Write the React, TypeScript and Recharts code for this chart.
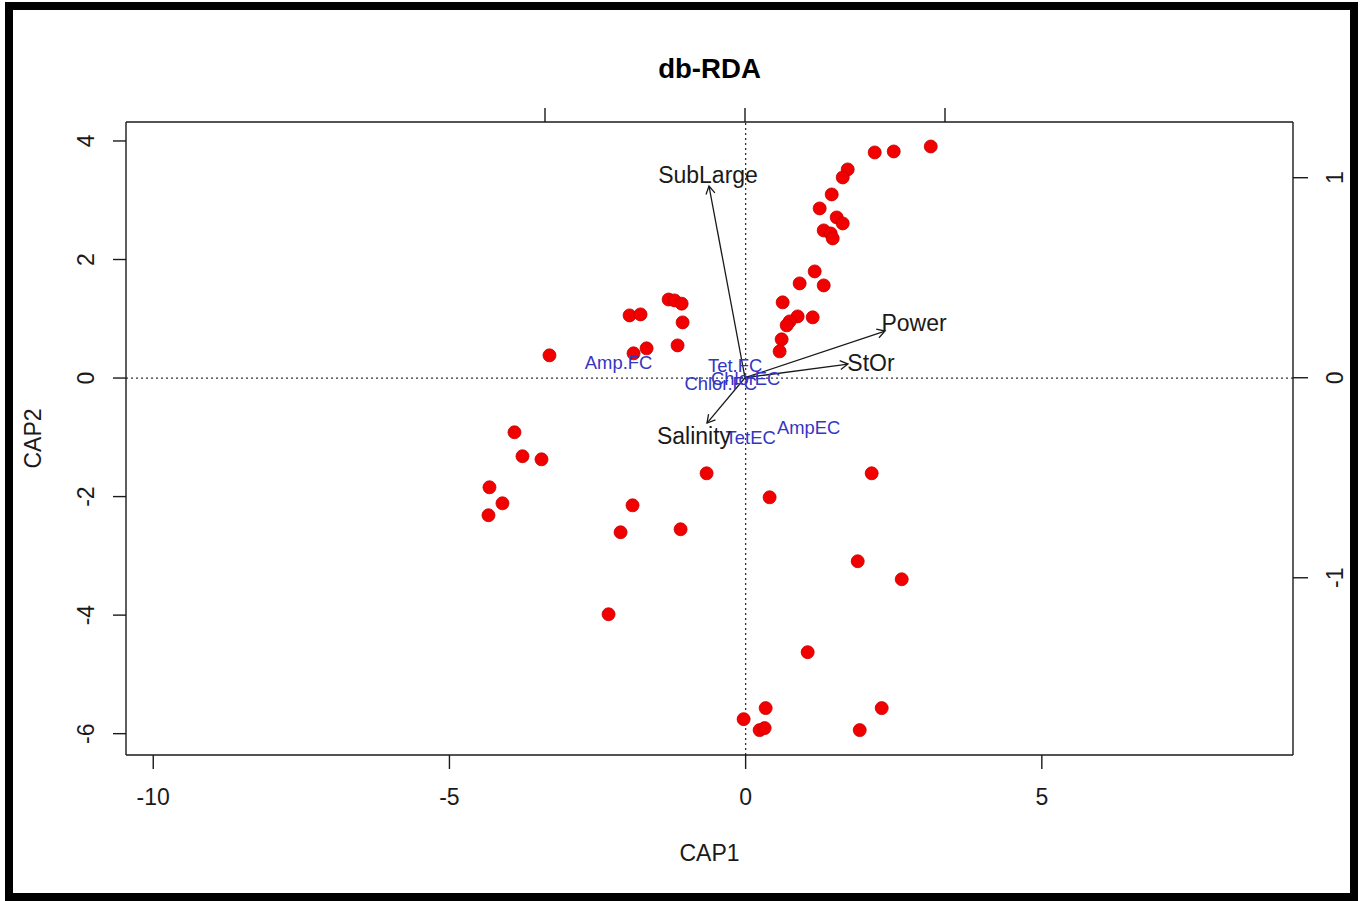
import {
  ScatterChart,
  Scatter,
  XAxis,
  YAxis,
  ReferenceLine,
  Label,
} from 'recharts';

// site scores (CAP1, CAP2)
const siteX = [
  3.125, 2.5, 2.179, 1.723, 1.639, 1.453, 1.25, 1.537, 1.639, 1.318, 1.436, 1.47,
  1.166, 0.912, 1.318, 0.625, 1.132, 0.878, 0.743, 0.693, 0.608, 0.574,
  -1.3, -1.2, -1.08, -1.064, -1.959, -1.774, -1.149, -1.672, -1.892, -3.311,
  -3.902, -3.767, -3.446, -4.324, -4.105, -4.341,
  -0.659, -1.909, -2.111, -1.098, 0.405, 2.128, 1.892, 2.635, -2.314, 1.047,
  -0.034, 0.338, 0.236, 0.321, 2.297, 1.926,
];
const siteY = [
  3.907, 3.823, 3.806, 3.52, 3.385, 3.098, 2.862, 2.71, 2.609, 2.491, 2.44, 2.356,
  1.799, 1.597, 1.563, 1.277, 1.024, 1.04, 0.956, 0.889, 0.653, 0.45,
  1.325, 1.31, 1.255, 0.939, 1.057, 1.074, 0.551, 0.501, 0.417, 0.383,
  -0.915, -1.319, -1.371, -1.843, -2.113, -2.315,
  -1.607, -2.147, -2.602, -2.551, -2.012, -1.607, -3.091, -3.395, -3.985, -4.625,
  -5.755, -5.569, -5.94, -5.906, -5.569, -5.94,
];

// species scores, drawn as blue text
const speciesNames = ['Amp.FC', 'Tet.FC', 'Chlor.FC', 'ChlorEC', 'TetEC', 'AmpEC'];
const speciesX = [-2.145, -0.177, -0.42, 0.0, 0.085, 1.064];
const speciesY = [0.265, 0.214, -0.09, 0.0, -1.0, -0.83];

// biplot arrows for the constraining variables (top / right axis units)
const envNames = ['SubLarge', 'Power', 'StOr', 'Salinity'];
const envX = [-0.18, 0.7, 0.515, -0.19];
const envY = [0.9585, 0.2335, 0.0685, -0.2265];
const envLabelX = [-0.185, 0.845, 0.63, -0.255];
const envLabelY = [1.0135, 0.2735, 0.0735, -0.2915];

const bottomTicks = [-10, -5, 0, 5];
const leftTicks = [-6, -4, -2, 0, 2, 4];
const biplotTicks = [-1, 0, 1];

const sites = siteX.map((x, i) => ({ x, y: siteY[i] }));
const species = speciesNames.map((name, i) => ({ name, x: speciesX[i], y: speciesY[i] }));
const envLabels = envNames.map((name, i) => ({ name, x: envLabelX[i], y: envLabelY[i] }));

const FONT = '"Liberation Sans", Arial, Helvetica, sans-serif';
const INK = '#1a1a1a';

const BottomTick = ({ x, payload }: any) => (
  <text x={x} y={805} textAnchor='middle' fontSize={23} fontFamily={FONT} fill={INK}>
    {payload.value}
  </text>
);

const LeftTick = ({ y, payload }: any) => (
  <text
    x={94}
    y={y}
    transform={`rotate(-90 94 ${y})`}
    textAnchor='middle'
    fontSize={23}
    fontFamily={FONT}
    fill={INK}
  >
    {payload.value}
  </text>
);

const RightTick = ({ y, payload }: any) => (
  <text
    x={1343}
    y={y}
    transform={`rotate(-90 1343 ${y})`}
    textAnchor='middle'
    fontSize={23}
    fontFamily={FONT}
    fill={INK}
  >
    {payload.value}
  </text>
);

const NoTick = () => <g />;

const Dot = ({ cx, cy }: any) => (
  <circle cx={cx} cy={cy} r={6.5} fill='#f20000' stroke='#c40000' strokeWidth={0.8} />
);

const SpeciesText = ({ cx, cy, payload }: any) => (
  <text x={cx} y={cy + 6.5} textAnchor='middle' fontSize={18.4} fontFamily={FONT} fill='#3535c4'>
    {payload.name}
  </text>
);

const EnvText = ({ cx, cy, payload }: any) => (
  <text x={cx} y={cy + 8} textAnchor='middle' fontSize={23} fontFamily={FONT} fill={INK}>
    {payload.name}
  </text>
);

const Arrow = ({ x1, y1, x2, y2 }: any) => {
  const a = Math.atan2(y2 - y1, x2 - x1);
  const len = 9;
  const spread = Math.PI / 6;
  const ax = x2 - len * Math.cos(a - spread);
  const ay = y2 - len * Math.sin(a - spread);
  const bx = x2 - len * Math.cos(a + spread);
  const by = y2 - len * Math.sin(a + spread);
  return (
    <g>
      <line x1={x1} y1={y1} x2={x2} y2={y2} stroke={INK} strokeWidth={1.3} />
      <path d={`M${ax},${ay}L${x2},${y2}L${bx},${by}`} fill='none' stroke={INK} strokeWidth={1.3} />
    </g>
  );
};

export default function App() {
  return (
    <div style={{ position: 'absolute', left: 0, top: 0, width: 1363, height: 901, background: '#fff' }}>
      <ScatterChart width={1363} height={901} margin={{ top: 92, right: 10, bottom: 86, left: 66 }}>
        <XAxis
          xAxisId='bottom'
          type='number'
          dataKey='x'
          domain={[-10.46, 9.24]}
          allowDataOverflow
          ticks={bottomTicks}
          height={60}
          tickSize={14}
          tick={<BottomTick />}
          stroke={INK}
          strokeWidth={1.4}
        >
          <Label
            content={({ viewBox }: any) => (
              <text
                x={viewBox.x + viewBox.width / 2}
                y={861}
                textAnchor='middle'
                fontSize={23}
                fontFamily={FONT}
                fill={INK}
              >
                CAP1
              </text>
            )}
          />
        </XAxis>
        <XAxis
          xAxisId='top'
          orientation='top'
          type='number'
          dataKey='x'
          domain={[-3.095, 2.74]}
          allowDataOverflow
          ticks={biplotTicks}
          height={30}
          tickSize={14}
          tick={<NoTick />}
          stroke={INK}
          strokeWidth={1.4}
        >
          <Label
            content={({ viewBox }: any) => (
              <text
                x={viewBox.x + viewBox.width / 2}
                y={78}
                textAnchor='middle'
                fontSize={27.6}
                fontWeight='bold'
                fontFamily={FONT}
                fill='#000'
              >
                db-RDA
              </text>
            )}
          />
        </XAxis>
        <YAxis
          yAxisId='left'
          type='number'
          dataKey='y'
          domain={[-6.36, 4.32]}
          allowDataOverflow
          ticks={leftTicks}
          width={60}
          tickSize={13}
          tick={<LeftTick />}
          stroke={INK}
          strokeWidth={1.4}
        >
          <Label
            content={({ viewBox }: any) => {
              const cy = viewBox.y + viewBox.height / 2;
              return (
                <text
                  x={41}
                  y={cy}
                  transform={`rotate(-90 41 ${cy})`}
                  textAnchor='middle'
                  fontSize={23}
                  fontFamily={FONT}
                  fill={INK}
                >
                  CAP2
                </text>
              );
            }}
          />
        </YAxis>
        <YAxis
          yAxisId='right'
          orientation='right'
          type='number'
          dataKey='y'
          domain={[-1.886, 1.2785]}
          allowDataOverflow
          ticks={biplotTicks}
          width={60}
          tickSize={15}
          tick={<RightTick />}
          stroke={INK}
          strokeWidth={1.4}
        />

        <ReferenceLine
          xAxisId='bottom'
          yAxisId='left'
          x={0}
          stroke='#333'
          strokeWidth={1.3}
          strokeDasharray='2 3'
        />
        <ReferenceLine
          xAxisId='bottom'
          yAxisId='left'
          y={0}
          stroke='#333'
          strokeWidth={1.3}
          strokeDasharray='2 3'
        />

        <Scatter
          xAxisId='bottom'
          yAxisId='left'
          data={sites}
          shape={<Dot />}
          isAnimationActive={false}
        />
        <Scatter
          xAxisId='bottom'
          yAxisId='left'
          data={species}
          shape={<SpeciesText />}
          isAnimationActive={false}
        />

        {envNames.map((name, i) => (
          <ReferenceLine
            key={name}
            xAxisId='top'
            yAxisId='right'
            segment={[
              { x: 0, y: 0 },
              { x: envX[i], y: envY[i] },
            ]}
            shape={<Arrow />}
          />
        ))}
        <Scatter
          xAxisId='top'
          yAxisId='right'
          data={envLabels}
          shape={<EnvText />}
          isAnimationActive={false}
        />
      </ScatterChart>

      {/* outer frame */}
      <div
        style={{
          position: 'absolute',
          left: 5,
          top: 2,
          width: 1353,
          height: 899,
          border: '8px solid #000',
          boxSizing: 'border-box',
          pointerEvents: 'none',
        }}
      />
    </div>
  );
}
